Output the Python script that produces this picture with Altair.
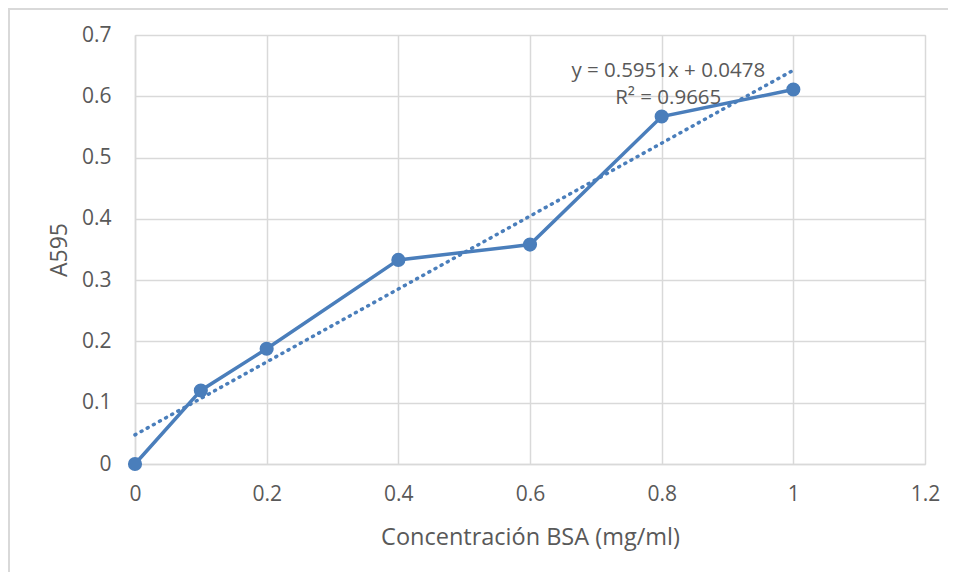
import altair as alt
import pandas as pd

conc = [0, 0.1, 0.2, 0.4, 0.6, 0.8, 1.0]
a595 = [0, 0.12, 0.188, 0.333, 0.358, 0.567, 0.611]
eq_lines = ["y = 0.5951x + 0.0478", "R² = 0.9665"]
eq_x = [0.81, 0.81]
eq_y = [0.641, 0.597]

df = pd.DataFrame({"x": conc, "y": a595})
eq_df = pd.DataFrame({"t": eq_lines, "x": eq_x, "y": eq_y})

BLUE = "#4a7ebb"
FONT = "Open Sans"
GRAY = "#595959"

xs = alt.Scale(domain=[0, 1.2], nice=False, zero=True)
ys = alt.Scale(domain=[0, 0.7], nice=False)

xax = alt.Axis(values=[0, 0.2, 0.4, 0.6, 0.8, 1.0, 1.2], title="Concentración BSA (mg/ml)",
               labelFont=FONT, labelFontSize=21, labelColor=GRAY, labelPadding=19,
               labelExpr="format(datum.value, '~g')",
               titleFont=FONT, titleFontSize=23.5, titleColor=GRAY, titleFontWeight="normal", titlePadding=21,
               grid=True, gridColor="#d9d9d9", gridWidth=1.5, domainColor="#d9d9d9", domainWidth=1.5,
               ticks=False, labelFlush=False)
yax = alt.Axis(values=[0, 0.1, 0.2, 0.3, 0.4, 0.5, 0.6, 0.7], title="A595",
               labelFont=FONT, labelFontSize=21, labelColor=GRAY, labelPadding=24,
               titleFont=FONT, titleFontSize=23, titleColor=GRAY, titleFontWeight="normal", titlePadding=10,
               grid=True, gridColor="#d9d9d9", gridWidth=1.5, domainColor="#d9d9d9", domainWidth=1.5,
               ticks=False, labelExpr="format(datum.value, '~g')")

base = alt.Chart(df)

line = base.mark_line(color=BLUE, strokeWidth=3.5).encode(
    x=alt.X("x:Q", scale=xs, axis=xax), y=alt.Y("y:Q", scale=ys, axis=yax))
pts = base.mark_circle(color=BLUE, size=200, opacity=1).encode(x=alt.X("x:Q", scale=xs), y=alt.Y("y:Q", scale=ys))
trend = base.transform_regression("x", "y", method="linear", extent=[0, 1]).mark_line(
    color=BLUE, strokeWidth=3.5, strokeDash=[1, 6], strokeCap="round").encode(
    x=alt.X("x:Q", scale=xs), y=alt.Y("y:Q", scale=ys))
eq = alt.Chart(eq_df).mark_text(font=FONT, fontSize=20.5, color=GRAY, align="center", baseline="middle").encode(
    x=alt.X("x:Q", scale=xs), y=alt.Y("y:Q", scale=ys), text="t:N")

border_top = alt.Chart(df).mark_rule(color="#d9d9d9", strokeWidth=2).encode(
    x=alt.value(-127), x2=alt.value(830), y=alt.value(-26))
border_left = alt.Chart(df).mark_rule(color="#d9d9d9", strokeWidth=2).encode(
    x=alt.value(-126), y=alt.value(-27), y2=alt.value(540))

chart = alt.layer(border_top, border_left, trend, line, pts, eq).properties(
    width=790, height=429,
    autosize=alt.AutoSizeParams(type="none"),
    padding={"left": 127, "top": 27, "right": 23, "bottom": 108},
).configure_view(stroke="#d9d9d9", strokeWidth=1.5).configure(background="white")

chart.save("out.html", embed_options={"renderer": "svg", "actions": False})
